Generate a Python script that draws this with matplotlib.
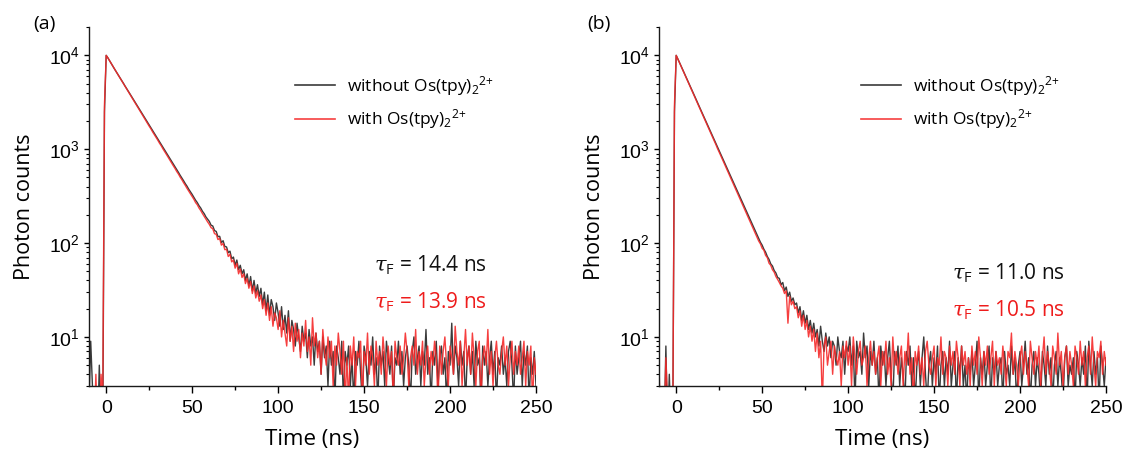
import numpy as np
import matplotlib
matplotlib.use("Agg")
import matplotlib.pyplot as plt
from matplotlib.ticker import LogLocator, MultipleLocator, NullFormatter

plt.rcParams['font.family'] = ['Open Sans', 'DejaVu Sans']
plt.rcParams['mathtext.fontset'] = 'custom'
plt.rcParams['mathtext.rm'] = 'Open Sans'
plt.rcParams['mathtext.it'] = 'DejaVu Serif:italic'
plt.rcParams['mathtext.default'] = 'regular'

# ---------------- data (photon counts per 1 ns bin, starting at t = -10 ns) --------------
t_start = -10

a_without = [2, 9, 3, 1, 1, 1, 5, 1, 1, 2500,
             10000, 9400, 8750, 8150, 7600, 7080, 6620, 6180, 5790, 5400,
             5050, 4700, 4400, 4100, 3840, 3590, 3350, 3130, 2920, 2730,
             2550, 2380, 2220, 2080, 1940, 1810, 1700, 1580, 1480, 1380,
             1290, 1200, 1120, 1050, 980, 915, 855, 800, 745, 695,
             650, 606, 568, 528, 495, 462, 430, 404, 375, 352,
             330, 308, 286, 270, 250, 236, 218, 206, 190, 180,
             170, 155, 152, 136, 133, 117, 118, 101, 106, 92,
             91, 79, 82, 68, 71, 58, 66, 52, 58, 47,
             52, 40, 47, 35, 44, 31, 40, 29, 36, 27,
             33, 22, 30, 19, 28, 17, 25, 21, 15, 23,
             18, 13, 21, 12, 17, 11, 19, 9, 15, 12,
             8, 14, 10, 7, 13, 9, 11, 6, 12, 8,
             10, 5, 11, 7, 9, 4, 10, 6, 8, 3,
             9, 5, 7, 2, 8, 6, 4, 9, 2, 7,
             5, 8, 3, 6, 2, 7, 5, 9, 4, 2,
             8, 6, 3, 7, 5, 10, 4, 6, 2, 8,
             5, 7, 3, 9, 6, 4, 8, 2, 6, 5,
             9, 4, 7, 3, 6, 8, 5, 2, 7, 10,
             4, 6, 8, 3, 7, 5, 12, 4, 6, 2,
             7, 5, 9, 3, 6, 8, 4, 6, 2, 7,
             5, 14, 4, 8, 6, 3, 9, 5, 7, 2,
             6, 8, 4, 7, 3, 9, 5, 6, 2, 8,
             5, 7, 3, 6, 9, 4, 7, 2, 6, 5,
             8, 4, 6, 3, 7, 9, 5, 2, 8, 4,
             6, 9, 3, 7, 5, 8, 2, 6, 4, 7, 3]

a_with = [1, 1, 1, 1, 4, 1, 1, 4, 2, 3000,
          10000, 9380, 8740, 8140, 7580, 7060, 6590, 6150, 5750, 5370,
          5010, 4670, 4360, 4060, 3790, 3540, 3300, 3080, 2870, 2680,
          2500, 2330, 2170, 2030, 1890, 1760, 1650, 1530, 1430, 1340,
          1250, 1160, 1090, 1010, 945, 882, 822, 770, 716, 668,
          625, 580, 545, 505, 474, 440, 412, 383, 358, 334,
          312, 293, 270, 256, 236, 222, 206, 193, 180, 168,
          158, 146, 142, 126, 124, 109, 112, 95, 99, 85,
          86, 72, 76, 63, 66, 54, 61, 47, 53, 43,
          47, 37, 42, 33, 39, 29, 35, 26, 31, 24,
          28, 20, 25, 17, 23, 15, 21, 13, 18, 16,
          12, 19, 10, 15, 11, 8, 16, 9, 13, 7,
          14, 9, 12, 6, 11, 8, 15, 7, 10, 5,
          16, 8, 11, 6, 9, 4, 12, 7, 5, 10,
          6, 9, 3, 8, 5, 11, 7, 4, 9, 2,
          6, 2, 8, 5, 10, 3, 7, 6, 9, 2,
          7, 5, 11, 4, 8, 6, 3, 9, 5, 7,
          4, 10, 6, 3, 8, 5, 7, 2, 9, 6,
          5, 8, 4, 6, 11, 7, 3, 6, 8, 5,
          12, 4, 7, 5, 9, 3, 6, 8, 4, 7,
          5, 9, 6, 2, 8, 4, 7, 10, 5, 3,
          8, 6, 4, 13, 7, 5, 9, 3, 6, 12,
          5, 8, 4, 11, 6, 3, 7, 9, 2, 6,
          8, 5, 12, 4, 7, 3, 6, 9, 5, 4,
          7, 10, 5, 8, 3, 6, 9, 4, 7, 5,
          8, 4, 6, 9, 3, 7, 5, 8, 2, 6, 4]

b_without = [1, 1, 2, 1, 8, 1, 4, 1, 1, 2500,
             10000, 9150, 8330, 7590, 6910, 6290, 5730, 5220, 4750, 4320,
             3940, 3590, 3260, 2970, 2710, 2460, 2240, 2040, 1860, 1690,
             1540, 1400, 1280, 1160, 1060, 965, 880, 800, 728, 663,
             604, 550, 500, 456, 415, 378, 344, 313, 285, 260,
             237, 216, 196, 179, 163, 148, 135, 123, 112, 102,
             95, 86, 80, 72, 67, 60, 57, 51, 48, 43,
             42, 36, 38, 31, 34, 27, 30, 24, 26, 22,
             23, 18, 21, 15, 19, 14, 17, 12, 15, 11,
             14, 10, 12, 8, 13, 9, 7, 11, 8, 10,
             6, 9, 8, 5, 10, 7, 6, 9, 4, 8,
             7, 10, 5, 8, 2, 9, 6, 7, 4, 11,
             6, 8, 3, 7, 5, 9, 4, 6, 2, 8,
             5, 7, 3, 6, 9, 4, 2, 7, 5, 8,
             3, 6, 4, 2, 7, 5, 8, 3, 6, 2,
             5, 7, 3, 6, 10, 4, 2, 5, 7, 3,
             6, 4, 8, 2, 5, 7, 3, 6, 4, 9,
             3, 5, 7, 2, 6, 4, 8, 3, 5, 2,
             6, 4, 7, 3, 5, 9, 2, 6, 4, 7,
             3, 5, 8, 2, 6, 4, 7, 3, 5, 6,
             2, 7, 4, 5, 3, 8, 4, 6, 2, 5,
             7, 3, 5, 9, 4, 6, 2, 5, 7, 3,
             6, 4, 2, 7, 5, 3, 8, 4, 6, 2,
             5, 7, 3, 6, 4, 2, 6, 8, 3, 5,
             4, 6, 2, 7, 5, 3, 6, 4, 8, 2,
             9, 5, 3, 7, 4, 6, 2, 8, 5, 3, 6]

b_with = [5, 1, 1, 1, 6, 2, 1, 1, 1, 3000,
          10000, 9120, 8290, 7540, 6860, 6240, 5670, 5160, 4690, 4270,
          3880, 3530, 3210, 2920, 2650, 2410, 2190, 1990, 1810, 1650,
          1500, 1360, 1240, 1130, 1020, 932, 848, 771, 701, 637,
          580, 527, 479, 436, 396, 360, 327, 298, 271, 246,
          224, 204, 185, 168, 153, 139, 127, 115, 105, 98,
          88, 84, 74, 70, 61, 58, 52, 49, 44, 41,
          38, 35, 33, 29, 31, 14, 27, 22, 24, 20,
          21, 16, 19, 13, 17, 12, 15, 10, 13, 9,
          12, 7, 11, 6, 9, 2, 8, 10, 5, 7,
          9, 4, 8, 6, 5, 7, 3, 8, 6, 9,
          5, 8, 3, 10, 6, 4, 7, 9, 5, 6,
          8, 3, 6, 9, 5, 7, 4, 6, 8, 3,
          7, 5, 9, 4, 6, 3, 10, 5, 7, 4,
          6, 8, 3, 7, 5, 11, 4, 6, 2, 7,
          5, 8, 4, 6, 3, 7, 9, 5, 4, 6,
          8, 3, 6, 5, 10, 4, 7, 6, 3, 8,
          5, 7, 4, 9, 6, 3, 8, 5, 7, 4,
          6, 3, 8, 5, 7, 4, 10, 6, 3, 7,
          5, 8, 4, 6, 9, 3, 7, 5, 6, 4,
          8, 5, 3, 7, 6, 11, 4, 7, 5, 3,
          6, 8, 4, 7, 5, 3, 9, 6, 4, 7,
          5, 8, 3, 6, 10, 4, 7, 5, 3, 8,
          6, 4, 11, 5, 7, 3, 6, 8, 4, 7,
          5, 3, 8, 6, 4, 9, 5, 7, 3, 6,
          8, 4, 10, 5, 3, 7, 6, 9, 4, 7, 5]

labels = [r'without Os(tpy)$\mathregular{_{2}{}^{2{+}}}$', r'with Os(tpy)$\mathregular{_{2}{}^{2{+}}}$']
tau_a = ['14.4', '13.9']
tau_b = ['11.0', '10.5']
panel_tags = ['(a)', '(b)']
xticks = [0, 50, 100, 150, 200, 250]

col_k = '#3b3b3b'
col_r = '#f52a2a'

fig = plt.figure(figsize=(11.23, 4.5), dpi=100)
W, H = 1123, 450
ax_a = fig.add_axes([89 / W, 1 - 386 / H, 447 / W, 359.3 / H])
ax_b = fig.add_axes([659 / W, 1 - 386 / H, 447 / W, 359.3 / H])

panels = [
    (ax_a, a_without, a_with, tau_a, 0.890, (0.337, 0.234), 0.461),
    (ax_b, b_without, b_with, tau_b, 0.908, (0.314, 0.212), 0.452),
]

tau_sym = r'$\mathit{\tau}_{\mathregular{F}}$'

for ax, yk, yr, taus, tx, tys, lx in panels:
    tk = np.arange(t_start, t_start + len(yk))
    tr = np.arange(t_start, t_start + len(yr))
    ax.plot(tk, yk, color=col_k, lw=1.0, label=labels[0])
    ax.plot(tr, yr, color=col_r, lw=1.0, alpha=0.9, label=labels[1])
    ax.set_yscale('log')
    ax.set_xlim(-10, 250)
    ax.set_ylim(3, 2.02e4)
    ax.set_xticks(xticks)
    ax.xaxis.set_minor_locator(MultipleLocator(25))
    ax.yaxis.set_major_locator(LogLocator(base=10, numticks=10))
    ax.yaxis.set_minor_locator(LogLocator(base=10, subs=np.arange(2, 10), numticks=20))
    ax.yaxis.set_minor_formatter(NullFormatter())
    for s in ['top', 'right']:
        ax.spines[s].set_visible(False)
    for s in ['left', 'bottom']:
        ax.spines[s].set_linewidth(1.0)
        ax.spines[s].set_color('#1a1a1a')
    ax.tick_params(axis='x', which='major', direction='out', length=5, width=1.0, pad=5, labelsize=14)
    ax.tick_params(axis='x', which='minor', direction='out', length=3, width=1.0)
    ax.tick_params(axis='y', which='major', direction='out', length=3.5, width=1.0, pad=3, labelsize=14)
    ax.tick_params(axis='y', which='minor', direction='out', length=2.5, width=0.8)
    for lab in ax.get_xticklabels() + ax.get_yticklabels():
        lab.set_fontfamily('Liberation Sans')
    ax.set_xlabel('Time (ns)', fontsize=16, labelpad=9)
    ax.set_ylabel('Photon counts', fontsize=15.5, labelpad=10)
    leg = ax.legend(loc='upper left', bbox_to_anchor=(lx, 0.868), frameon=False,
                    fontsize=12.5, handlelength=2.3, handletextpad=0.7,
                    borderpad=0, borderaxespad=0, labelspacing=0.55)
    for line in leg.get_lines():
        line.set_linewidth(1.2)
    ax.text(tx, tys[0], tau_sym + ' = ' + taus[0] + ' ns', transform=ax.transAxes,
            ha='right', va='center', fontsize=15, color='#111111')
    ax.text(tx, tys[1], tau_sym + ' = ' + taus[1] + ' ns', transform=ax.transAxes,
            ha='right', va='center', fontsize=15, color='#ee1c1c')

fig.text(44 / W, 1 - 24 / H, panel_tags[0], fontsize=14, ha='center', va='center')
fig.text(599 / W, 1 - 24 / H, panel_tags[1], fontsize=14, ha='center', va='center')

fig.savefig('out.png', dpi=100)
